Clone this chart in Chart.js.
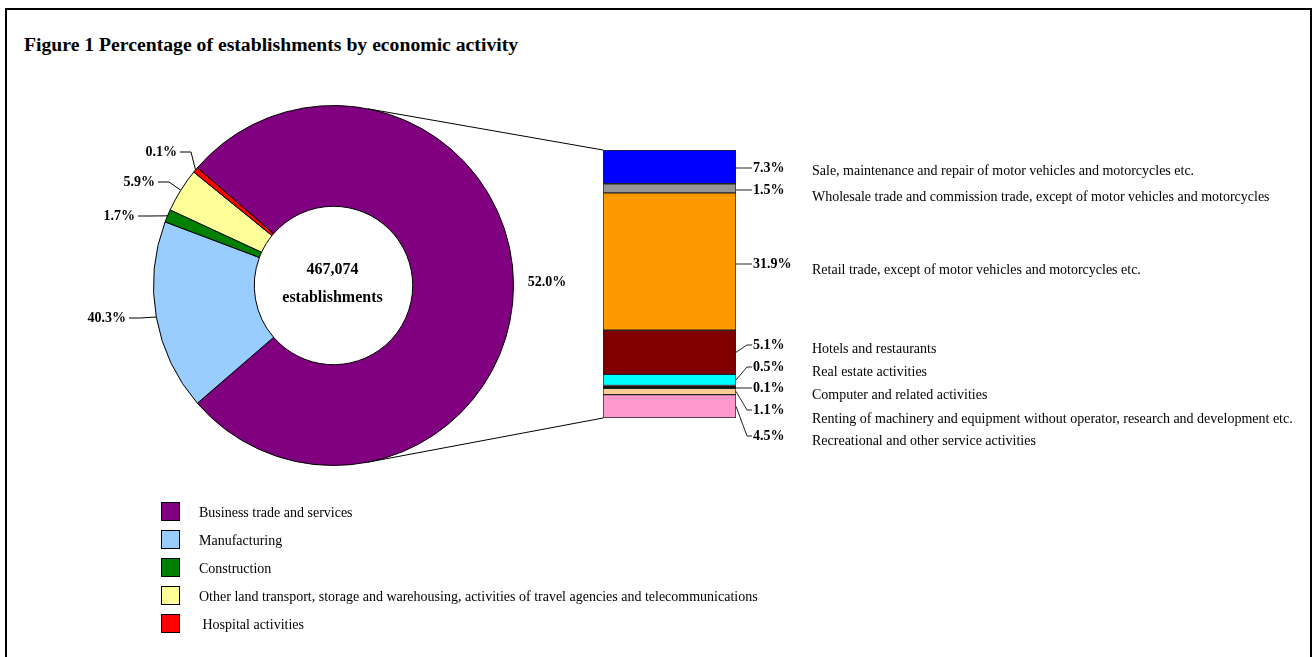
<!DOCTYPE html>
<html>
<head>
<meta charset="utf-8">
<title>Figure 1 Percentage of establishments by economic activity</title>
<script src="https://cdn.jsdelivr.net/npm/chart.js"></script>
<style>
    body { margin: 0; background: #fff; font-family: "Liberation Serif", "Times New Roman", serif; color: #000; }
    #page { position: relative; width: 1313px; height: 657px; overflow: hidden; }
    #frame { position: absolute; left: 5px; top: 8px; width: 1307px; height: 700px; border: 2px solid #000; box-sizing: border-box; }
    h1 { position: absolute; left: 24px; top: 32px; margin: 0; font-size: 19.7px; line-height: 24px; font-weight: bold; white-space: nowrap; }
    canvas { position: absolute; }
    #pieChart { left: 153px; top: 105px; }
    #barChart { left: 603px; top: 150px; }
    #overlay { left: 0; top: 0; pointer-events: none; }
    .legend-item { position: absolute; left: 161px; height: 19px; font-size: 14px; line-height: 19px; white-space: pre; }
    .legend-item .box { position: absolute; left: 0; top: 0; width: 17px; height: 17px; border: 1px solid #000; }
    .legend-item .text { position: absolute; left: 38px; top: 1px; }
</style>
</head>
<body>
<div id="page">
    <div id="frame"></div>
    <h1>Figure 1 Percentage of establishments by economic activity</h1>
    <canvas id="pieChart" width="361" height="361"></canvas>
    <canvas id="barChart" width="133" height="268"></canvas>
    <canvas id="overlay" width="1313" height="657"></canvas>
    <div id="legend"></div>
</div>

<script>
    // doughnut: main activities
    const pieCategories = [
        'Business trade and services',
        'Manufacturing',
        'Construction',
        'Other land transport, storage and warehousing, activities of travel agencies and telecommunications',
        ' Hospital activities'
    ];
    const pieLabels = ['52.0%', '40.3%', '1.7%', '5.9%', '0.1%'];
    // slice sizes as drawn in the figure (share of the ring)
    const pieShares = [77.3, 17.1, 1.15, 3.95, 0.5];
    const pieColors = ['#800080', '#99ccff', '#008000', '#ffff99', '#ff0000'];
    const totalText = ['467,074', 'establishments'];

    // stacked bar: breakdown of business trade and services
    const barCategories = [
        'Sale, maintenance and repair of motor vehicles and motorcycles etc.',
        'Wholesale trade and commission trade, except of motor vehicles and motorcycles',
        'Retail trade, except of motor vehicles and motorcycles etc.',
        'Hotels and restaurants',
        'Real estate activities',
        'Computer and related activities',
        'Renting of machinery and equipment without operator, research and development etc.',
        'Recreational and other service activities'
    ];
    const barLabels = ['7.3%', '1.5%', '31.9%', '5.1%', '0.5%', '0.1%', '1.1%', '4.5%'];
    // segment sizes as drawn in the figure
    const barHeights = [6.55, 1.76, 26.66, 8.58, 2.15, 0.53, 1.23, 4.54];
    const barColors = ['#0000ff', '#969696', '#ff9900', '#800000', '#00ffff', '#000000', '#ffcc99', '#ff99cc'];

    // label placement (page pixels)
    const pieLabelSpots = [
        { x: 547, y: 282, align: 'center', leader: false },
        { x: 126, y: 318, align: 'right', leader: true },
        { x: 135, y: 216, align: 'right', leader: true },
        { x: 155, y: 182, align: 'right', leader: true },
        { x: 177, y: 152, align: 'right', leader: true }
    ];
    const barLabelY = [168, 190, 264, 345, 367, 388, 410, 436];
    const barTextY = [171, 197, 270, 349, 372, 395, 419, 441];
    const connectorAngle = 79;

    const pieTotal = pieShares.reduce((s, v) => s + v, 0);
    const firstSliceDeg = pieShares[0] / pieTotal * 360;

    const pieChart = new Chart(document.getElementById('pieChart'), {
        type: 'doughnut',
        data: {
            labels: pieCategories,
            datasets: [{
                data: pieShares,
                backgroundColor: pieColors,
                borderColor: '#000',
                borderWidth: 1
            }]
        },
        options: {
            responsive: false,
            animation: false,
            cutout: '44%',
            rotation: 90 - firstSliceDeg / 2,
            layout: { padding: 0 },
            plugins: { legend: { display: false }, tooltip: { enabled: false } }
        }
    });

    const barTotal = barHeights.reduce((s, v) => s + v, 0);
    const barChart = new Chart(document.getElementById('barChart'), {
        type: 'bar',
        data: {
            labels: ['Business trade and services'],
            datasets: barCategories.map((c, i) => ({
                label: c,
                data: [barHeights[i]],
                backgroundColor: barColors[i],
                borderColor: '#222',
                borderWidth: 1,
                borderSkipped: false,
                barPercentage: 1,
                categoryPercentage: 1
            }))
        },
        options: {
            responsive: false,
            animation: false,
            layout: { padding: 0 },
            scales: {
                x: { display: false, stacked: true },
                y: { display: false, stacked: true, reverse: true, min: 0, max: barTotal }
            },
            plugins: { legend: { display: false }, tooltip: { enabled: false } }
        }
    });

    // legend
    const legend = document.getElementById('legend');
    pieCategories.forEach((c, i) => {
        const item = document.createElement('div');
        item.className = 'legend-item';
        item.style.top = (502 + i * 28) + 'px';
        item.innerHTML = '<span class="box" style="background:' + pieColors[i] + '"></span><span class="text"></span>';
        item.querySelector('.text').textContent = c;
        legend.appendChild(item);
    });

    // overlay: connectors, leader lines and labels
    const ov = document.getElementById('overlay').getContext('2d');
    const pieBox = document.getElementById('pieChart');
    const barBox = document.getElementById('barChart');
    const px = pieBox.offsetLeft, py = pieBox.offsetTop;
    const bx = barBox.offsetLeft, by = barBox.offsetTop;

    ov.strokeStyle = '#000';
    ov.lineWidth = 1;
    ov.fillStyle = '#000';
    ov.textBaseline = 'middle';

    const arcs = pieChart.getDatasetMeta(0).data;
    const cx = px + arcs[0].x, cy = py + arcs[0].y, rOut = arcs[0].outerRadius;

    function line(pts) {
        ov.beginPath();
        ov.moveTo(pts[0][0], pts[0][1]);
        for (let k = 1; k < pts.length; k++) ov.lineTo(pts[k][0], pts[k][1]);
        ov.stroke();
    }

    // bar geometry
    const segs = barCategories.map((c, i) => {
        const el = barChart.getDatasetMeta(i).data[0];
        return {
            left: bx + el.x - el.width / 2,
            right: bx + el.x + el.width / 2,
            top: by + Math.min(el.y, el.base),
            bottom: by + Math.max(el.y, el.base)
        };
    });
    const barLeft = segs[0].left, barRight = segs[0].right;
    const barTop = segs[0].top, barBottom = segs[segs.length - 1].bottom;

    // connectors between ring and bar
    const a = connectorAngle * Math.PI / 180;
    line([[cx + rOut * Math.cos(-a), cy + rOut * Math.sin(-a)], [barLeft, barTop]]);
    line([[cx + rOut * Math.cos(a), cy + rOut * Math.sin(a)], [barLeft, barBottom]]);

    // ring labels
    ov.font = 'bold 14px "Liberation Serif", "Times New Roman", serif';
    arcs.forEach((arc, i) => {
        const spot = pieLabelSpots[i];
        const mid = (arc.startAngle + arc.endAngle) / 2;
        const ax = cx + rOut * Math.cos(mid), ay = cy + rOut * Math.sin(mid);
        ov.textAlign = spot.align;
        ov.fillText(pieLabels[i], spot.x, spot.y);
        if (spot.leader) {
            line([[spot.x + 3, spot.y], [spot.x + 14, spot.y], [ax, ay]]);
        }
    });

    // centre text
    ov.textAlign = 'center';
    ov.font = 'bold 16px "Liberation Serif", "Times New Roman", serif';
    ov.fillText(totalText[0], cx - 1, 270);
    ov.fillText(totalText[1], cx - 1, 298);

    // bar labels
    segs.forEach((s, i) => {
        const mid = (s.top + s.bottom) / 2;
        const ty = barLabelY[i];
        ov.strokeStyle = '#222';
        if (Math.abs(mid - ty) < 3) {
            line([[barRight, ty], [barRight + 16, ty]]);
        } else {
            line([[barRight, mid], [barRight + 11, ty], [barRight + 16, ty]]);
        }
        ov.textAlign = 'left';
        ov.font = 'bold 14px "Liberation Serif", "Times New Roman", serif';
        ov.fillText(barLabels[i], barRight + 17, ty);
        ov.font = '14px "Liberation Serif", "Times New Roman", serif';
        ov.fillText(barCategories[i], 812, barTextY[i]);
    });
</script>
</body>
</html>
